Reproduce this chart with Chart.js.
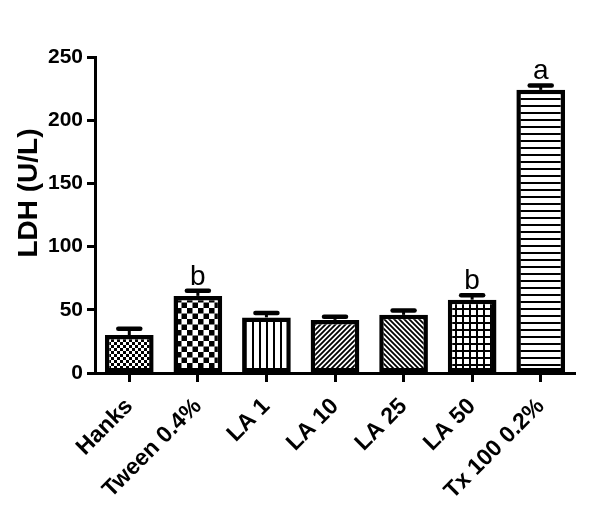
<!DOCTYPE html>
<html><head><meta charset="utf-8">
<script src="https://cdn.jsdelivr.net/npm/chart.js@4.4.0/dist/chart.umd.min.js"></script>
<style>html,body{margin:0;padding:0;background:#fff;} canvas{display:block}</style>
</head><body>
<canvas id="c" width="600" height="518"></canvas>
<script>
const categories = ['Hanks', 'Tween 0.4%', 'LA 1', 'LA 10', 'LA 25', 'LA 50', 'Tx 100 0.2%'];
const ldhMean = [30, 61, 44, 42, 46, 58, 224];
const ldhSem = [5, 4, 3.5, 2.5, 3.5, 3.5, 3.5];
const sigLetters = ['', 'b', '', '', '', 'b', 'a'];
const yTicks = [0, 50, 100, 150, 200, 250];
const yTitle = 'LDH (U/L)';

const FONT = '"Liberation Sans", Arial, Helvetica, sans-serif';
const canvas = document.getElementById('c');
const ctx = canvas.getContext('2d');

function tile(w, h, draw) {
  const c = document.createElement('canvas');
  c.width = w; c.height = h;
  const g = c.getContext('2d');
  g.fillStyle = '#fff'; g.fillRect(0, 0, w, h);
  g.fillStyle = '#000'; g.strokeStyle = '#000';
  draw(g, w, h);
  return ctx.createPattern(c, 'repeat');
}
function diag(g, s, lw, back) {
  g.lineWidth = lw; g.beginPath();
  for (const k of [-s, 0, s]) {
    if (back) { g.moveTo(k - 1, -1); g.lineTo(k + s + 1, s + 1); }
    else { g.moveTo(k - 1, s + 1); g.lineTo(k + s + 1, -1); }
  }
  g.stroke();
}
const patterns = [
  tile(6, 6, g => { g.fillRect(0, 0, 3, 3); g.fillRect(3, 3, 3, 3); }),
  tile(11, 11, g => { g.fillRect(0, 0, 5.5, 5.5); g.fillRect(5.5, 5.5, 5.5, 5.5); }),
  tile(7, 7, g => { g.fillRect(0, 0, 2, 7); }),
  tile(5, 5, g => diag(g, 5, 1.8, false)),
  tile(5, 5, g => diag(g, 5, 1.8, true)),
  tile(7, 7, g => { g.fillRect(0, 0, 7, 2); g.fillRect(0, 0, 2, 7); }),
  tile(7, 7, g => { g.fillRect(0, 0, 7, 2); })
];

const errorBarPlugin = {
  id: 'errorBars',
  afterDatasetsDraw(chart) {
    const c = chart.ctx;
    const y = chart.scales.y;
    const meta = chart.getDatasetMeta(0);
    c.save();
    c.strokeStyle = '#000'; c.fillStyle = '#000';
    meta.data.forEach((bar, i) => {
      const top = y.getPixelForValue(ldhMean[i]);
      const e = y.getPixelForValue(ldhMean[i] + ldhSem[i]);
      c.lineWidth = 3; c.lineCap = 'butt';
      c.beginPath(); c.moveTo(bar.x, top); c.lineTo(bar.x, e); c.stroke();
      c.lineWidth = 4.5; c.lineCap = 'round';
      c.beginPath(); c.moveTo(bar.x - 11, e); c.lineTo(bar.x + 11, e); c.stroke();
      if (sigLetters[i]) {
        c.font = '28px ' + FONT;
        c.textAlign = 'center'; c.textBaseline = 'alphabetic';
        c.fillText(sigLetters[i], bar.x, e - 6);
      }
    });
    const a = chart.chartArea;
    c.translate(37, (a.top + a.bottom) / 2 - 22);
    c.rotate(-Math.PI / 2);
    c.font = 'bold 28px ' + FONT;
    c.textAlign = 'center'; c.textBaseline = 'alphabetic';
    c.fillText(yTitle, 0, 0);
    c.restore();
  }
};

new Chart(ctx, {
  type: 'bar',
  data: {
    labels: categories,
    datasets: [{
      data: ldhMean,
      backgroundColor: patterns,
      borderColor: '#000',
      borderWidth: 4.5,
      borderSkipped: false,
      barPercentage: 0.71,
      categoryPercentage: 1
    }]
  },
  options: {
    responsive: false,
    animation: false,
    devicePixelRatio: 1,
    layout: { padding: { top: 57, right: 25, bottom: 0, left: 0 } },
    plugins: { legend: { display: false }, tooltip: { enabled: false } },
    scales: {
      x: {
        offset: true,
        grid: { display: true, offset: false, drawOnChartArea: false, drawTicks: true, tickLength: 9, tickWidth: 3, tickColor: '#000' },
        border: { display: true, width: 3, color: '#000' },
        ticks: { color: '#000', font: { family: FONT, size: 23, weight: 'bold' }, minRotation: 45, maxRotation: 45, padding: 11, autoSkip: false },
        afterFit(s) { s.height = 145; }
      },
      y: {
        min: 0, max: 250,
        afterBuildTicks(s) { s.ticks = yTicks.map(v => ({ value: v })); },
        grid: { display: true, drawOnChartArea: false, drawTicks: true, tickLength: 8, tickWidth: 3, tickColor: '#000' },
        border: { display: true, width: 3, color: '#000' },
        ticks: { color: '#000', font: { family: FONT, size: 21, weight: 'bold' }, padding: 4 },
        afterFit(s) { s.width = 95; }
      }
    }
  },
  plugins: [errorBarPlugin]
});
</script>
</body></html>
